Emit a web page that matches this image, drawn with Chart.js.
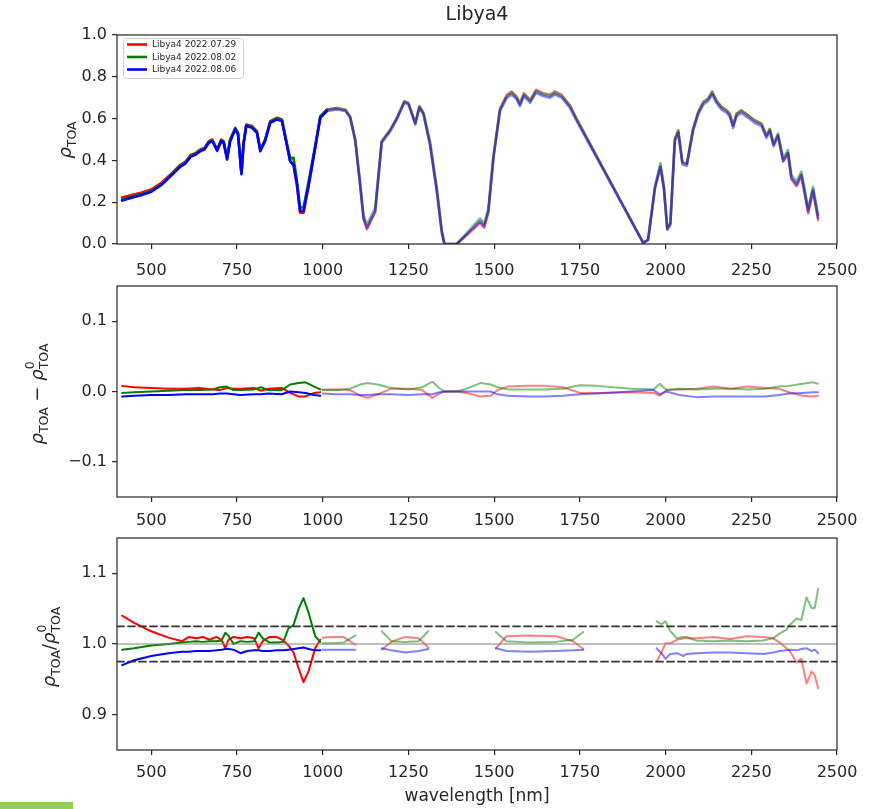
<!DOCTYPE html>
<html>
<head>
<meta charset="utf-8">
<script src="https://cdn.jsdelivr.net/npm/chart.js@4.4.1/dist/chart.umd.min.js"></script>
<style>
  body { margin: 0; background: #fff; width: 877px; height: 809px; overflow: hidden; position: relative; }
  canvas { position: absolute; left: 0; }
  #mark { position: absolute; left: 0; top: 802px; width: 73px; height: 7px; background: #92d050; }
</style>
</head>
<body>
<canvas id="c1" width="877" height="280" style="top:0"></canvas>
<canvas id="c2" width="877" height="252" style="top:280px"></canvas>
<canvas id="c3" width="877" height="277" style="top:532px"></canvas>
<div id="mark"></div>
<script>
// ---- data ----
const seriesNames = ['Libya4 2022.07.29', 'Libya4 2022.08.02', 'Libya4 2022.08.06'];
const xTicks = [500, 750, 1000, 1250, 1500, 1750, 2000, 2250, 2500];
const yTicks1 = [0, 0.2, 0.4, 0.6, 0.8, 1.0];
const yTicks2 = [-0.1, 0, 0.1];
const yTicks3 = [0.9, 1.0, 1.1];
const ratioLimits = [0.975, 1.025];
const ratioOne = [1.0];
const swirStart = 996;

// top panel: TOA reflectance
const wl1 = [
  415, 440, 470, 500, 530, 560, 585, 600, 615, 630,
  645, 655, 668, 678, 692, 704, 711, 721, 730, 745,
  753, 763, 769, 777, 794, 808, 818, 832, 847, 867,
  881, 891, 905, 915, 925, 934, 944, 959, 978, 993,
  1012, 1041, 1066, 1080, 1095, 1109, 1119, 1129, 1143, 1153,
  1172, 1197, 1216, 1238, 1250, 1270, 1282, 1294, 1313, 1333,
  1347, 1355, 1391, 1420, 1459, 1471, 1483, 1498, 1517, 1537,
  1551, 1566, 1575, 1587, 1605, 1622, 1643, 1663, 1677, 1697,
  1721, 1741, 1935, 1949, 1969, 1985, 1995, 2005, 2014, 2027,
  2037, 2049, 2062, 2080, 2095, 2110, 2124, 2136, 2148, 2163,
  2178, 2187, 2197, 2207, 2221, 2241, 2260, 2280, 2294, 2304,
  2315, 2328, 2343, 2357, 2367, 2382, 2396, 2416, 2430, 2445
];
const rhoRed = [
  0.223, 0.233, 0.245, 0.261, 0.293, 0.339, 0.379, 0.394, 0.426, 0.436,
  0.454, 0.460, 0.492, 0.500, 0.452, 0.500, 0.492, 0.410, 0.500, 0.556,
  0.532, 0.340, 0.484, 0.572, 0.564, 0.540, 0.450, 0.500, 0.588, 0.604,
  0.596, 0.516, 0.396, 0.376, 0.280, 0.150, 0.150, 0.278, 0.460, 0.610,
  0.643, 0.651, 0.643, 0.610, 0.496, 0.282, 0.120, 0.070, 0.120, 0.154,
  0.490, 0.546, 0.602, 0.682, 0.674, 0.578, 0.658, 0.624, 0.472, 0.248,
  0.058, 0.000, 0.000, 0.042, 0.100, 0.078, 0.150, 0.416, 0.648, 0.714,
  0.730, 0.706, 0.674, 0.722, 0.690, 0.738, 0.722, 0.714, 0.730, 0.714,
  0.664, 0.598, 0.004, 0.018, 0.266, 0.366, 0.268, 0.074, 0.100, 0.502,
  0.544, 0.392, 0.384, 0.550, 0.631, 0.680, 0.696, 0.730, 0.688, 0.656,
  0.640, 0.624, 0.568, 0.624, 0.640, 0.616, 0.592, 0.576, 0.518, 0.550,
  0.476, 0.522, 0.396, 0.432, 0.310, 0.276, 0.324, 0.146, 0.250, 0.114
];
const rhoGreen = [
  0.213, 0.225, 0.238, 0.255, 0.288, 0.335, 0.375, 0.391, 0.423, 0.433,
  0.451, 0.457, 0.489, 0.497, 0.451, 0.497, 0.490, 0.412, 0.498, 0.553,
  0.529, 0.338, 0.481, 0.569, 0.561, 0.537, 0.452, 0.497, 0.585, 0.601,
  0.593, 0.514, 0.410, 0.412, 0.300, 0.174, 0.176, 0.300, 0.470, 0.610,
  0.642, 0.650, 0.642, 0.610, 0.500, 0.298, 0.138, 0.092, 0.140, 0.170,
  0.492, 0.547, 0.603, 0.683, 0.675, 0.579, 0.660, 0.628, 0.492, 0.268,
  0.070, 0.000, 0.000, 0.052, 0.122, 0.098, 0.168, 0.424, 0.645, 0.709,
  0.725, 0.701, 0.669, 0.717, 0.685, 0.733, 0.717, 0.709, 0.725, 0.709,
  0.662, 0.598, 0.006, 0.024, 0.276, 0.386, 0.278, 0.075, 0.100, 0.503,
  0.543, 0.392, 0.384, 0.550, 0.630, 0.678, 0.694, 0.727, 0.687, 0.655,
  0.639, 0.623, 0.567, 0.623, 0.639, 0.615, 0.591, 0.575, 0.519, 0.551,
  0.480, 0.528, 0.410, 0.450, 0.330, 0.298, 0.346, 0.170, 0.274, 0.138
];
const rhoBlue = [
  0.208, 0.220, 0.233, 0.250, 0.283, 0.330, 0.370, 0.386, 0.418, 0.428,
  0.446, 0.452, 0.484, 0.492, 0.446, 0.492, 0.484, 0.404, 0.492, 0.548,
  0.524, 0.334, 0.476, 0.564, 0.556, 0.532, 0.444, 0.492, 0.580, 0.596,
  0.588, 0.508, 0.396, 0.380, 0.284, 0.158, 0.158, 0.284, 0.460, 0.604,
  0.636, 0.644, 0.636, 0.604, 0.492, 0.284, 0.124, 0.076, 0.124, 0.156,
  0.484, 0.540, 0.596, 0.676, 0.668, 0.572, 0.652, 0.620, 0.476, 0.252,
  0.060, 0.000, 0.000, 0.046, 0.108, 0.084, 0.156, 0.412, 0.636, 0.700,
  0.716, 0.692, 0.660, 0.708, 0.676, 0.724, 0.708, 0.700, 0.716, 0.700,
  0.652, 0.588, 0.004, 0.020, 0.268, 0.372, 0.268, 0.068, 0.092, 0.492,
  0.532, 0.382, 0.374, 0.540, 0.620, 0.668, 0.684, 0.716, 0.676, 0.644,
  0.628, 0.612, 0.556, 0.612, 0.628, 0.604, 0.580, 0.564, 0.508, 0.540,
  0.468, 0.516, 0.396, 0.436, 0.316, 0.284, 0.332, 0.156, 0.260, 0.124
];

// middle panel: difference to reference
const wl2 = [
  415, 450, 500, 550, 600, 640, 680, 700, 720, 740,
  760, 800, 820, 840, 880, 905, 930, 950, 975, 993,
  997,
  1000, 1040, 1080, 1110, 1130, 1160, 1200, 1250, 1290, 1320,
  1340, 1355, 1390, 1420, 1460, 1490, 1510, 1540, 1600, 1650,
  1700, 1750, 1800, 1900, 1965, 1983, 2003, 2040, 2090, 2140,
  2190, 2240, 2290, 2330, 2360, 2400, 2430, 2445
];
const diffRed = [
  0.008, 0.006, 0.005, 0.004, 0.004, 0.005, 0.003, 0.002, 0.005, 0.004,
  0.004, 0.005, 0.001, 0.004, 0.005, -0.002, -0.007, -0.007, -0.002, -0.001,
  null,
  0.003, 0.003, 0.002, -0.006, -0.009, -0.004, 0.004, 0.004, 0.002, -0.009,
  -0.003, 0.000, 0.000, -0.002, -0.007, -0.006, 0.002, 0.007, 0.008, 0.008,
  0.006, -0.002, -0.002, -0.001, -0.002, -0.006, 0.002, 0.003, 0.004, 0.007,
  0.004, 0.007, 0.005, 0.004, -0.001, -0.006, -0.007, -0.006
];
const diffGreen = [
  -0.002, -0.001, 0.000, 0.001, 0.002, 0.002, 0.003, 0.006, 0.007, 0.002,
  0.002, 0.003, 0.006, 0.002, 0.002, 0.010, 0.012, 0.013, 0.007, 0.003,
  null,
  0.002, 0.002, 0.004, 0.010, 0.012, 0.010, 0.005, 0.003, 0.006, 0.014,
  0.005, 0.000, 0.000, 0.004, 0.012, 0.010, 0.006, 0.003, 0.003, 0.003,
  0.004, 0.009, 0.008, 0.004, 0.003, 0.011, 0.002, 0.004, 0.003, 0.004,
  0.004, 0.003, 0.004, 0.007, 0.008, 0.011, 0.013, 0.011
];
const diffBlue = [
  -0.007, -0.006, -0.005, -0.005, -0.004, -0.004, -0.004, -0.003, -0.003, -0.004,
  -0.005, -0.004, -0.004, -0.003, -0.004, 0.000, -0.001, -0.002, -0.005, -0.006,
  null,
  -0.003, -0.004, -0.004, -0.005, -0.005, -0.004, -0.004, -0.005, -0.004, -0.004,
  -0.001, 0.000, 0.000, 0.000, 0.000, 0.000, -0.004, -0.006, -0.007, -0.007,
  -0.006, -0.004, -0.003, 0.000, 0.002, -0.004, 0.000, -0.005, -0.008, -0.007,
  -0.007, -0.007, -0.007, -0.005, -0.003, -0.002, -0.001, -0.001
];

// bottom panel: ratio to reference (gaps where masked)
const wl3 = [
  415, 450, 500, 550, 590, 610, 630, 650, 670, 690,
  705, 716, 725, 740, 760, 780, 800, 813, 825, 845,
  865, 885, 900, 915, 930, 944, 959, 978, 993,
  996,
  1000, 1030, 1060, 1095,
  1130,
  1172, 1200, 1240, 1280, 1308,
  1400,
  1505, 1536, 1600, 1680, 1730, 1760,
  1870,
  1974, 1988, 2000, 2014, 2033, 2052, 2061, 2090, 2139, 2188,
  2236, 2284, 2314, 2333, 2352, 2362, 2382, 2396, 2411, 2426,
  2435, 2445
];
const ratioRed = [
  1.040, 1.030, 1.018, 1.009, 1.004, 1.010, 1.008, 1.010, 1.006, 1.010,
  1.006, 0.994, 1.006, 1.010, 1.008, 1.010, 1.008, 0.994, 1.004, 1.010,
  1.010, 1.005, 0.998, 0.988, 0.965, 0.946, 0.962, 0.994, 1.006,
  null,
  1.009, 1.010, 1.010, 0.999,
  null,
  0.992, 1.003, 1.010, 1.008, 0.995,
  null,
  0.994, 1.011, 1.012, 1.011, 1.004, 0.993,
  null,
  0.975, 0.988, 1.001, 1.001, 1.006, 1.008, 1.008, 1.008, 1.010, 1.007,
  1.011, 1.010, 1.008, 1.002, 0.994, 0.990, 0.974, 0.979, 0.944, 0.961,
  0.956, 0.937
];
const ratioGreen = [
  0.992, 0.994, 0.998, 1.000, 1.002, 1.003, 1.004, 1.003, 1.004, 1.004,
  1.005, 1.016, 1.012, 1.000, 1.004, 1.003, 1.004, 1.016, 1.008, 1.002,
  1.002, 1.003, 1.022, 1.027, 1.050, 1.065, 1.044, 1.011, 1.003,
  null,
  1.001, 1.001, 1.002, 1.012,
  null,
  1.018, 1.004, 1.003, 1.004, 1.018,
  null,
  1.017, 1.004, 1.002, 1.003, 1.006, 1.017,
  null,
  1.032, 1.028, 1.032, 1.018, 1.008, 1.010, 1.010, 1.005, 1.004, 1.005,
  1.004, 1.005, 1.008, 1.015, 1.020, 1.027, 1.036, 1.034, 1.066, 1.051,
  1.051, 1.078
];
const ratioBlue = [
  0.970, 0.977, 0.983, 0.987, 0.989, 0.989, 0.990, 0.990, 0.990, 0.991,
  0.992, 0.993, 0.993, 0.992, 0.987, 0.990, 0.991, 0.991, 0.990, 0.990,
  0.991, 0.991, 0.992, 0.993, 0.994, 0.995, 0.993, 0.991, 0.991,
  null,
  0.992, 0.992, 0.992, 0.992,
  null,
  0.994, 0.991, 0.988, 0.990, 0.993,
  null,
  0.994, 0.990, 0.989, 0.990, 0.991, 0.992,
  null,
  0.994, 0.987, 0.979, 0.986, 0.987, 0.983, 0.986, 0.987, 0.988, 0.988,
  0.987, 0.986, 0.988, 0.990, 0.991, 0.992, 0.991, 0.993, 0.994, 0.990,
  0.992, 0.987
];

// ---- styles ----
const solid = ['rgb(255,0,0)', 'rgb(0,128,0)', 'rgb(0,0,255)'];
const faded = ['rgba(255,0,0,0.5)', 'rgba(0,128,0,0.5)', 'rgba(0,0,255,0.5)'];
const TXT = '#262626';
const FONT = 'DejaVu Sans';

function toPoints(xs, ys) {
  return xs.map((x, i) => ({ x: x, y: ys[i] }));
}

function seriesSets(xs, lists, width) {
  return lists.map((ys, k) => ({
    data: toPoints(xs, ys),
    borderWidth: width,
    order: 2 - k,
    borderColor: solid[k],
    segment: {
      borderColor: c => c.p0.parsed.x >= swirStart ? faded[k] : solid[k]
    }
  }));
}

function hLine(y, color, width, dash) {
  return {
    data: [{ x: 400, y: y }, { x: 2500, y: y }],
    borderColor: color, borderWidth: width, borderDash: dash, order: -1
  };
}

function fmt(v) {
  return Number(v).toFixed(1).replace('-', '\u2212');
}

function drawMath(ctx, cx, cy, parts) {
  ctx.save();
  ctx.translate(cx, cy);
  ctx.rotate(-Math.PI / 2);
  ctx.fillStyle = TXT;
  ctx.textBaseline = 'alphabetic';
  ctx.textAlign = 'left';
  const fontOf = p => (p.italic ? 'italic ' : '') + p.size + 'px "' + FONT + '"';
  // measure total advance
  let total = 0, held = 0;
  parts.forEach(p => {
    ctx.font = fontOf(p);
    const w = ctx.measureText(p.t).width;
    if (p.hold) { held = w; } else { total += Math.max(w, held); held = 0; }
  });
  let u = -total / 2;
  held = 0;
  parts.forEach(p => {
    ctx.font = fontOf(p);
    const w = ctx.measureText(p.t).width;
    ctx.fillText(p.t, u, p.dy);
    if (p.hold) { held = w; } else { u += Math.max(w, held); held = 0; }
  });
  ctx.restore();
}

const RHO = { t: '\u03c1', size: 18, italic: true, dy: 5 };
const SUB = { t: 'TOA', size: 12.5, dy: 10 };
const SUP0 = { t: '0', size: 12.5, dy: -4, hold: true };

function panelPlugin(drawExtra) {
  return {
    id: 'panelDecor',
    afterDraw(chart) {
      const ctx = chart.ctx, a = chart.chartArea;
      ctx.save();
      ctx.strokeStyle = TXT;
      ctx.lineWidth = 1.2;
      ctx.strokeRect(a.left, a.top, a.right - a.left, a.bottom - a.top);
      ctx.restore();
      drawExtra(ctx, a);
    }
  };
}

function makeChart(id, datasets, o) {
  return new Chart(document.getElementById(id), {
    type: 'line',
    data: { datasets: datasets },
    options: {
      responsive: false,
      animation: false,
      events: [],
      layout: { padding: { top: o.padTop, right: 40, bottom: 0, left: 0 } },
      plugins: { legend: { display: false }, tooltip: { enabled: false }, title: { display: false } },
      elements: {
        point: { radius: 0 },
        line: { tension: 0, borderJoinStyle: 'round', borderCapStyle: 'round', fill: false }
      },
      scales: {
        x: {
          type: 'linear', min: 400, max: 2500,
          afterBuildTicks: s => { s.ticks = xTicks.map(v => ({ value: v })); },
          afterFit: s => { s.height = o.xHeight; s.paddingLeft = 0; s.paddingRight = 0; },
          grid: { display: true, drawOnChartArea: false, drawTicks: true, tickLength: 5, color: TXT, lineWidth: 1.2 },
          border: { display: false },
          ticks: { color: TXT, font: { family: FONT, size: 16 }, padding: o.xPad, maxRotation: 0, autoSkip: false, callback: v => String(v) }
        },
        y: {
          type: 'linear', min: o.yMin, max: o.yMax,
          afterBuildTicks: s => { s.ticks = o.yTicks.map(v => ({ value: v })); },
          afterFit: s => { s.width = 117; s.paddingTop = 0; s.paddingBottom = 0; },
          grid: { display: true, drawOnChartArea: false, drawTicks: true, tickLength: 5, color: TXT, lineWidth: 1.2 },
          border: { display: false },
          ticks: { color: TXT, font: { family: FONT, size: 16 }, padding: 5, autoSkip: false, callback: fmt }
        }
      }
    },
    plugins: [panelPlugin(o.extra)]
  });
}

// top panel
makeChart('c1', seriesSets(wl1, [rhoRed, rhoGreen, rhoBlue], 2.6), {
  padTop: 35, xHeight: 280 - 244, xPad: 12, yMin: 0, yMax: 1.0, yTicks: yTicks1,
  extra: (ctx, a) => {
    ctx.save();
    ctx.fillStyle = TXT;
    ctx.font = '19px "' + FONT + '"';
    ctx.textAlign = 'center';
    ctx.textBaseline = 'middle';
    ctx.fillText('Libya4', (a.left + a.right) / 2, 15);
    // legend
    ctx.fillStyle = 'rgba(255,255,255,0.8)';
    ctx.strokeStyle = '#d0d0d0';
    ctx.lineWidth = 1;
    ctx.beginPath();
    ctx.roundRect(123.5, 38.5, 120, 40, 3);
    ctx.fill();
    ctx.stroke();
    ctx.font = '9px "' + FONT + '"';
    ctx.textAlign = 'left';
    seriesNames.forEach((name, k) => {
      const y = 44.5 + k * 12.5;
      ctx.strokeStyle = solid[k];
      ctx.lineWidth = 2.6;
      ctx.beginPath();
      ctx.moveTo(127, y);
      ctx.lineTo(147, y);
      ctx.stroke();
      ctx.fillStyle = TXT;
      ctx.fillText(name, 152, y + 0.5);
    });
    ctx.restore();
    drawMath(ctx, 66, 140, [RHO, SUB]);
  }
});

// middle panel
makeChart('c2', seriesSets(wl2, [diffRed, diffGreen, diffBlue], 2), {
  padTop: 6, xHeight: 252 - 217, xPad: 9, yMin: -0.15, yMax: 0.15, yTicks: yTicks2,
  extra: (ctx, a) => {
    drawMath(ctx, 38, 394 - 280, [RHO, SUB, { t: ' \u2212 ', size: 18, dy: 5 }, RHO, SUP0, SUB]);
  }
});

// bottom panel
const refSets = [
  hLine(ratioOne[0], '#808080', 1, []),
  hLine(ratioLimits[0], '#333333', 1.8, [7, 4]),
  hLine(ratioLimits[1], '#333333', 1.8, [7, 4])
];
makeChart('c3', seriesSets(wl3, [ratioRed, ratioGreen, ratioBlue], 2).concat(refSets), {
  padTop: 6, xHeight: 277 - 218, xPad: 8, yMin: 0.85, yMax: 1.15, yTicks: yTicks3,
  extra: (ctx, a) => {
    drawMath(ctx, 50, 647 - 532, [RHO, SUB, { t: '/', size: 18, dy: 5 }, RHO, SUP0, SUB]);
    ctx.save();
    ctx.fillStyle = TXT;
    ctx.font = '17px "' + FONT + '"';
    ctx.textAlign = 'center';
    ctx.textBaseline = 'middle';
    ctx.fillText('wavelength [nm]', (a.left + a.right) / 2, 797 - 532);
    ctx.restore();
  }
});
</script>
</body>
</html>
